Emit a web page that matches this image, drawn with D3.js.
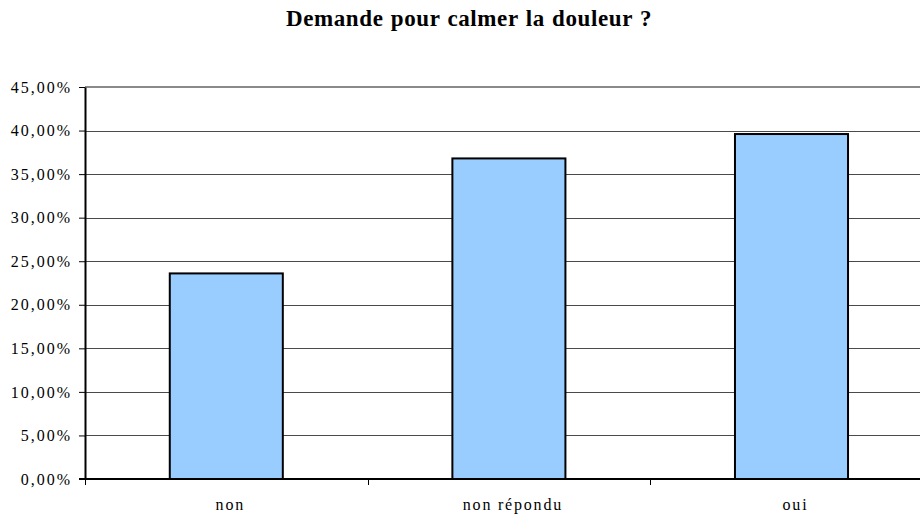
<!DOCTYPE html>
<html>
<head>
<meta charset="utf-8">
<script src="https://cdn.jsdelivr.net/npm/d3@7"></script>
<style>
  body { margin: 0; background: #fff; }
  .axis path, .axis line { stroke: #000; }
  .grid line { stroke: #4a4a4a; }
</style>
</head>
<body>
<div id="chart"></div>
<script>
  var categories = ['non', 'non répondu', 'oui'];
  var values = [0.236, 0.368, 0.396];
  var yTicks = [0, 0.05, 0.10, 0.15, 0.20, 0.25, 0.30, 0.35, 0.40, 0.45];
  var title = 'Demande pour calmer la douleur ?';

  var serif = "'Liberation Serif'";
  var frame = { width: 920, height: 517 },
    plot = { left: 85, top: 87, bottom: 479, right: 85 + 3 * 282.6 };

  var fr = d3.formatLocale({ decimal: ',', thousands: ' ', grouping: [3], currency: ['', ' €'], percent: '%' });
  var pct = fr.format('.2%');

  var x = d3.scaleBand()
    .domain(categories)
    .range([plot.left, plot.right])
    .paddingInner(0.6)
    .paddingOuter(0.3);

  var y = d3.scaleLinear()
    .domain([0, 0.45])
    .range([plot.bottom, plot.top]);

  var svg = d3.select('#chart').append('svg')
    .attr('width', frame.width)
    .attr('height', frame.height)
    .style('font-family', serif);

  svg.append('text')
    .attr('x', 469)
    .attr('y', 26)
    .attr('text-anchor', 'middle')
    .style('font-family', serif)
    .style('font-size', '23px')
    .style('font-weight', 'bold')
    .style('word-spacing', '1px')
    .style('letter-spacing', '0.6px')
    .text(title);

  // gridlines
  svg.append('g')
    .attr('class', 'grid')
    .selectAll('line')
    .data(yTicks.slice(1, -1))
    .enter().append('line')
    .attr('x1', plot.left)
    .attr('x2', plot.right)
    .attr('y1', function (d) { return Math.round(y(d)) + 0.5; })
    .attr('y2', function (d) { return Math.round(y(d)) + 0.5; });

  // top border of plot area
  svg.append('line')
    .attr('x1', plot.left)
    .attr('x2', plot.right)
    .attr('y1', y(0.45))
    .attr('y2', y(0.45))
    .attr('stroke', '#8a8a8a')
    .attr('stroke-width', 2);

  // bars
  svg.append('g')
    .selectAll('rect')
    .data(values)
    .enter().append('rect')
    .attr('x', function (d, i) { return x(categories[i]); })
    .attr('y', function (d) { return y(d); })
    .attr('width', x.bandwidth())
    .attr('height', function (d) { return y(0) - y(d); })
    .attr('fill', '#99ccff')
    .attr('stroke', '#000')
    .attr('stroke-width', 2);

  // y axis
  var yAxis = svg.append('g')
    .attr('class', 'axis')
    .attr('transform', 'translate(' + plot.left + ',0)')
    .call(d3.axisLeft(y).tickValues(yTicks).tickFormat(pct).tickSize(6).tickPadding(7).tickSizeOuter(0))
    .attr('font-family', null)
    .attr('font-size', null);
  yAxis.select('.domain').attr('stroke-width', 2);
  yAxis.selectAll('text')
    .style('font-family', serif)
    .style('font-size', '16px')
    .style('letter-spacing', '2px');

  // x axis with ticks at category boundaries
  var xAxis = svg.append('g')
    .attr('class', 'axis')
    .attr('transform', 'translate(0,' + plot.bottom + ')');
  xAxis.append('line')
    .attr('x1', plot.left - 6)
    .attr('x2', plot.right)
    .attr('stroke-width', 2);
  xAxis.selectAll('.bound')
    .data(categories)
    .enter().append('line')
    .attr('class', 'bound')
    .attr('x1', function (d) { return Math.round(x(d) - x.step() * 0.3) + 0.5; })
    .attr('x2', function (d) { return Math.round(x(d) - x.step() * 0.3) + 0.5; })
    .attr('y1', 0)
    .attr('y2', 6);
  xAxis.selectAll('.lab')
    .data(categories)
    .enter().append('text')
    .attr('class', 'lab')
    .attr('x', function (d) { return x(d) + x.bandwidth() / 2 + 4; })
    .attr('y', 31)
    .attr('text-anchor', 'middle')
    .style('font-family', serif)
    .style('font-size', '16px')
    .style('letter-spacing', '1.8px')
    .text(function (d) { return d; });
</script>
</body>
</html>
